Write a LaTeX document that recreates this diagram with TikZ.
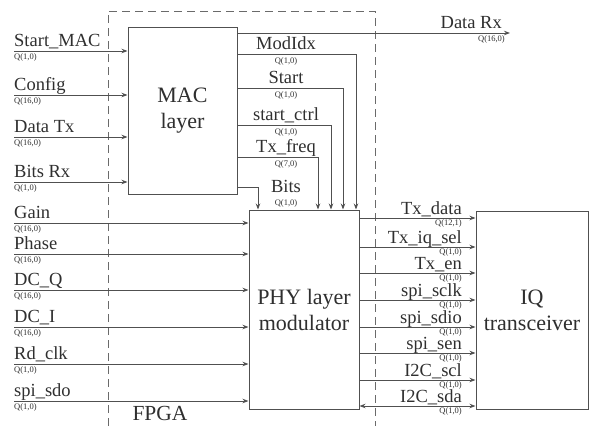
\documentclass[tikz,border=0pt]{standalone}
\usepackage{fontspec}
\setmainfont{Liberation Serif}
\usetikzlibrary{arrows.meta,positioning}
\definecolor{fpgaInk}{HTML}{2F2F2F}
\definecolor{fpgaLine}{HTML}{505050}
\definecolor{fpgaGuide}{HTML}{6A6A6A}
\tikzset{
  every picture/.style={text=fpgaInk},
  fpga block/.style={draw=fpgaLine, line width=1pt, fill=white, align=center,
    inner sep=0pt, font=\fontsize{22}{26}\selectfont},
  fpga bound/.style={draw=fpgaGuide, line width=0.9pt, dash pattern=on 8pt off 5pt},
  fpga wire/.style={draw=fpgaLine, line width=1pt, line cap=butt},
  fpga arrow/.style={-{Stealth[length=6pt,width=4.5pt]}, fpga wire},
  fpga both/.style={{Stealth[length=6pt,width=4.5pt]}-{Stealth[length=6pt,width=4.5pt]}, fpga wire},
  sig name/.style={font=\fontsize{18.5}{19}\selectfont, inner sep=0pt},
  sig fmt/.style={font=\fontsize{8.5}{8.5}\selectfont, inner sep=0pt}
}

\begin{document}
\begin{tikzpicture}[x=1pt,y=-1pt]
  \useasboundingbox (0,0) rectangle (589,426);

  % FPGA border, open at the bottom
  \coordinate (fpgaBL) at (108,426);
  \coordinate (fpgaTR) at (375,11);
  \draw[fpga bound] (fpgaBL) |- (fpgaTR) -- (fpgaTR |- fpgaBL);
  \node[font=\fontsize{21.5}{22}\selectfont, anchor=base] (fpgaLbl) at (160,420) {FPGA};

  % blocks
  \node[fpga block, minimum width=109pt, minimum height=167pt] (mac) at (182.5,110.5) {MAC\\layer};
  \node[fpga block, minimum width=110pt, minimum height=199pt] (phy) at (304,309.5) {PHY layer\\modulator};
  \node[fpga block, minimum width=112pt, minimum height=198pt] (iq) at (532,310) {IQ\\transceiver};

  % inputs of the MAC layer
  \foreach \nm/\yy/\txt/\fmt in {smac/51/Start\_MAC/{Q(1,0)}, cfg/95/Config/{Q(16,0)},
      dtx/137/Data Tx/{Q(16,0)}, brx/182/Bits Rx/{Q(1,0)}} {
    \coordinate (in\nm) at (14,\yy);
    \draw[fpga arrow] (in\nm) -- (in\nm -| mac.west);
    \node[sig name, anchor=base west] (lbl\nm) at ([yshift=4.5pt]in\nm) {\txt};
    \node[sig fmt, anchor=north west] (fmt\nm) at ([yshift=-2pt]in\nm) {\fmt};
  }

  % inputs of the PHY layer
  \foreach \nm/\yy/\txt/\fmt in {gain/223/Gain/{Q(16,0)}, phase/254/Phase/{Q(16,0)},
      dcq/290/DC\_Q/{Q(16,0)}, dci/327/DC\_I/{Q(16,0)}, rdclk/364/Rd\_clk/{Q(1,0)},
      sdo/401/spi\_sdo/{Q(1,0)}} {
    \coordinate (in\nm) at (14,\yy);
    \draw[fpga arrow] (in\nm) -- (in\nm -| phy.west);
    \node[sig name, anchor=base west] (lbl\nm) at ([yshift=4.5pt]in\nm) {\txt};
    \node[sig fmt, anchor=north west] (fmt\nm) at ([yshift=-2pt]in\nm) {\fmt};
  }

  % MAC output leaving the FPGA
  \coordinate (drx) at (510,33);
  \draw[fpga arrow] (mac.east |- drx) -- (drx);
  \node[sig name, anchor=base east] (lbldrx) at ([xshift=-8pt,yshift=4.5pt]drx) {Data Rx};
  \node[sig fmt, anchor=north east] (fmtdrx) at ([xshift=-5pt,yshift=-2pt]drx) {Q(16,0)};

  % MAC -> PHY
  \foreach \nm/\xx/\yy/\txt in {modidx/356/54/ModIdx, start/343/88/Start,
      sctrl/331/125/start\_ctrl, txfreq/318/157/Tx\_freq} {
    \coordinate (tap\nm) at (\xx,\yy);
    \draw[fpga arrow] (mac.east |- tap\nm) -- (tap\nm) -- (tap\nm |- phy.north);
    \node[sig name, anchor=base] (lbl\nm) at (286,\yy-4.5) {\txt};
  }
  \node[sig fmt, anchor=north] (fmtmodidx) at (286,57) {Q(1,0)};
  \node[sig fmt, anchor=north] (fmtstart) at (286,91) {Q(1,0)};
  \node[sig fmt, anchor=north] (fmtsctrl) at (286,128) {Q(1,0)};
  \node[sig fmt, anchor=north] (fmttxfreq) at (286,160) {Q(7,0)};
  \coordinate (tapbits) at (258,187);
  \draw[fpga arrow] (mac.east |- tapbits) -- (tapbits) -- (tapbits |- phy.north);
  \node[sig name, anchor=base] (lblbits) at (286,192) {Bits};
  \node[sig fmt, anchor=north] (fmtbits) at (286,199) {Q(1,0)};

  % PHY -> IQ transceiver
  \foreach \nm/\yy/\txt/\fmt/\st in {txdata/218/Tx\_data/{Q(12,1)}/fpga arrow,
      txiqsel/247/Tx\_iq\_sel/{Q(1,0)}/fpga arrow, txen/273/Tx\_en/{Q(1,0)}/fpga arrow,
      sclk/300/spi\_sclk/{Q(1,0)}/fpga arrow, sdio/327/spi\_sdio/{Q(1,0)}/fpga arrow,
      sen/353/spi\_sen/{Q(1,0)}/fpga arrow, iicscl/380/I2C\_scl/{Q(1,0)}/fpga arrow,
      iicsda/406/I2C\_sda/{Q(1,0)}/fpga both} {
    \coordinate (out\nm) at (462,\yy);
    \draw[\st] (phy.east |- out\nm) -- (iq.west |- out\nm);
    \node[sig name, anchor=base east] (lbl\nm) at ([yshift=3.5pt]out\nm) {\txt};
    \node[sig fmt, anchor=north east] (fmt\nm) at ([yshift=-1pt]out\nm) {\fmt};
  }
\end{tikzpicture}
\end{document}
